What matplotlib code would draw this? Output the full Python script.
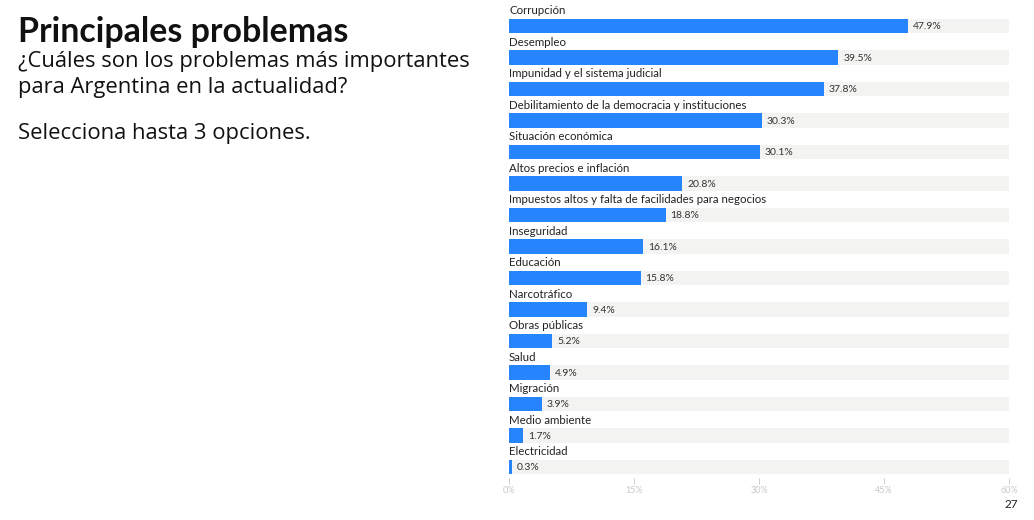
import matplotlib.pyplot as plt
import numpy as np

# data
categories = ['Corrupción', 'Desempleo', 'Impunidad y el sistema judicial',
              'Debilitamiento de la democracia y instituciones', 'Situación económica',
              'Altos precios e inflación', 'Impuestos altos y falta de facilidades para negocios',
              'Inseguridad', 'Educación', 'Narcotráfico', 'Obras públicas', 'Salud',
              'Migración', 'Medio ambiente', 'Electricidad']
values = [47.9, 39.5, 37.8, 30.3, 30.1, 20.8, 18.8, 16.1, 15.8, 9.4, 5.2, 4.9, 3.9, 1.7, 0.3]
xticks = [0, 15, 30, 45, 60]

plt.rcParams['font.family'] = ['Lato', 'DejaVu Sans']

fig = plt.figure(figsize=(10.34, 5.2), dpi=100)
fig.patch.set_facecolor('white')

# title block on the left
sub = ['Open Sans', 'DejaVu Sans']
fig.text(18/1034, 1 - 32/520, 'Principales problemas', fontsize=24.4, fontweight='bold',
         color='#111111', va='center', ha='left')
fig.text(18/1034, 1 - 62/520, '¿Cuáles son los problemas más importantes', fontsize=15.8,
         family=sub, color='#111111', va='center', ha='left')
fig.text(18/1034, 1 - 87/520, 'para Argentina en la actualidad?', fontsize=15.8,
         family=sub, color='#111111', va='center', ha='left')
fig.text(18/1034, 1 - 133/520, 'Selecciona hasta 3 opciones.', fontsize=15.8,
         family=sub, color='#111111', va='center', ha='left')
fig.text(1018/1034, 1 - 505/520, '27', fontsize=8.5, color='#222222', va='center', ha='right')

ax = fig.add_axes([509/1034, 42/520, 500/1034, 476/520])
y = np.arange(len(categories))
h = 0.47

ax.barh(y, [60] * len(y), height=h, color='#f3f3f1', zorder=1)
ax.barh(y, values, height=h, color='#2684fc', zorder=2)

for yi, cat, v in zip(y, categories, values):
    ax.text(0, yi - 0.48, cat, fontsize=8.3, color='#222222', va='center', ha='left')
    ax.text(v + 0.6, yi + 0.02, f'{v}%', fontsize=7.5, color='#333333', va='center', ha='left')

ax.set_xlim(0, 60)
ax.set_ylim(14.35, -0.76)
ax.set_xticks(xticks)
ax.set_xticklabels([f'{t}%' for t in xticks])
ax.tick_params(axis='x', colors='#c8c8c8', labelsize=6.5, length=4, width=0.6, pad=2)
ax.set_yticks([])
for s in ax.spines.values():
    s.set_visible(False)

fig.savefig('out.png', dpi=100)
